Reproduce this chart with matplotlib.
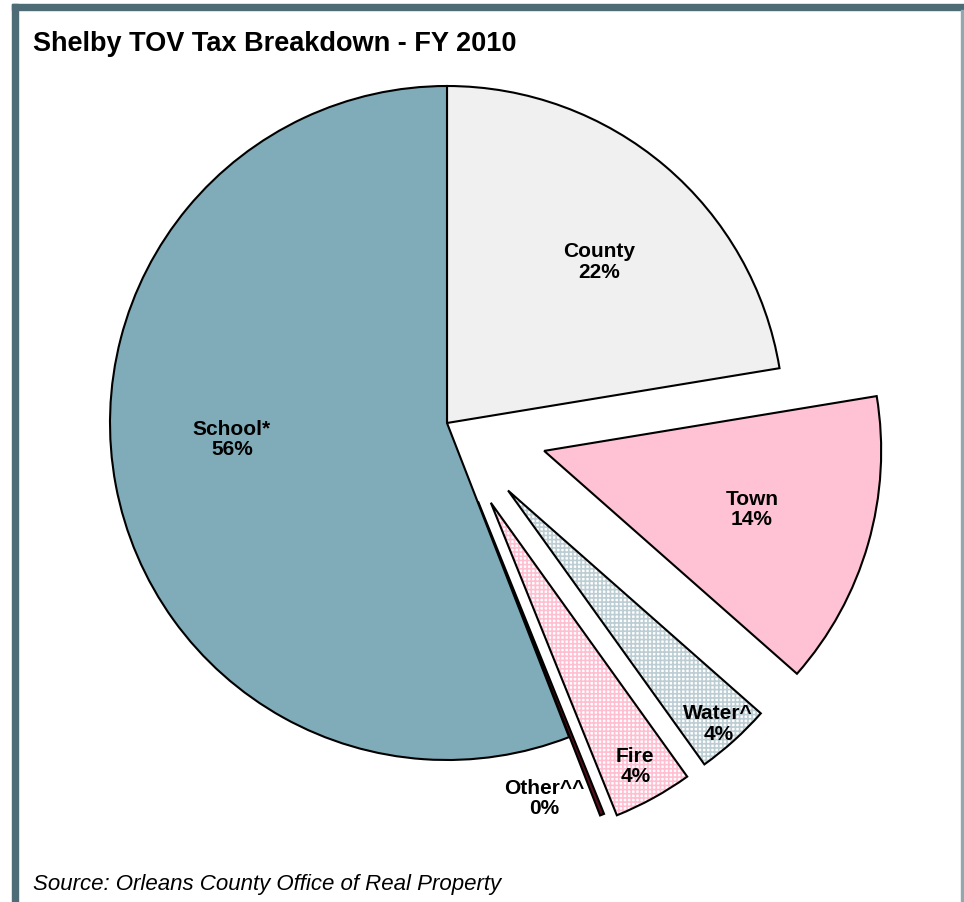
import numpy as np
import matplotlib.pyplot as plt
from matplotlib.patches import Rectangle, Wedge

plt.rcParams['font.family'] = ['Liberation Sans', 'DejaVu Sans']
plt.rcParams['hatch.linewidth'] = 1.2

# data (clockwise from 12 o'clock)
labels = ['County', 'Town', 'Water^', 'Fire', 'Other^^', 'School*']
shares = [22.4, 14.1, 3.6, 3.8, 0.2, 55.9]
pct_text = ['22%', '14%', '4%', '4%', '0%', '56%']

# styling
colors = ['#f0f0f0', '#ffc2d5', '#ffffff', '#ffffff', '#5a0f1c', '#7facb8']
hatches = [None, None, '++++', '++++', None, None]
hatch_cols = [None, None, '#bccdd3', '#ffbfd2', None, None]
explode = [0, 0.30, 0.27, 0.27, 0.25, 0]   # fraction of radius
lab_r = [0.66, 0.64, 0.93, 0.89, 0.90, 0.64]
lab_dang = [-3, 0.5, 0, 0, -9, -6.5]

W, H = 964, 903
fig = plt.figure(figsize=(W / 100, H / 100), dpi=100)
ax = fig.add_axes([0, 0, 1, 1])

cx, cy, R = 447, H - 424, 337
wedges, _ = ax.pie(shares, explode=[e * R for e in explode], startangle=90,
                   counterclock=False, colors=colors, center=(cx, cy), radius=R,
                   wedgeprops=dict(edgecolor='black', linewidth=1.5), frame=True)
ax.set_xlim(0, W)
ax.set_ylim(0, H)
ax.set_aspect('equal')
ax.axis('off')

for i, w in enumerate(wedges):
    if hatches[i]:
        w.set_hatch(hatches[i])
        w.set_edgecolor(hatch_cols[i])
        w.set_linewidth(0)
        ax.add_patch(Wedge(w.center, w.r, w.theta1, w.theta2, fill=False,
                           edgecolor='black', linewidth=1.5, zorder=w.get_zorder() + 0.1))
    mid = np.deg2rad((w.theta1 + w.theta2) / 2 + lab_dang[i])
    x = w.center[0] + np.cos(mid) * R * lab_r[i]
    y = w.center[1] + np.sin(mid) * R * lab_r[i]
    ax.text(x, y, labels[i] + '\n' + pct_text[i], ha='center', va='center',
            fontsize=15, fontweight='bold', linespacing=1.1, zorder=5)

# frame around the chart
border = '#4e6c76'
fig.patches.append(Rectangle((12 / W, 1 - 11 / H), 1, 6 / H, transform=fig.transFigure,
                             color=border, zorder=10))
fig.patches.append(Rectangle((12 / W, 0), 6 / W, 1 - 5 / H, transform=fig.transFigure,
                             color=border, zorder=10))
fig.patches.append(Rectangle((961 / W, 0), 2 / W, 1 - 11 / H, transform=fig.transFigure,
                             color='#93a7ae', zorder=10))

fig.text(33 / W, 1 - 44 / H, 'Shelby TOV Tax Breakdown - FY 2010', fontsize=19.5,
         fontweight='bold', ha='left', va='center')
fig.text(33 / W, 1 - 885 / H, 'Source: Orleans County Office of Real Property',
         fontsize=16, fontstyle='italic', ha='left', va='center')

fig.savefig('out.png', dpi=100, facecolor='white')
